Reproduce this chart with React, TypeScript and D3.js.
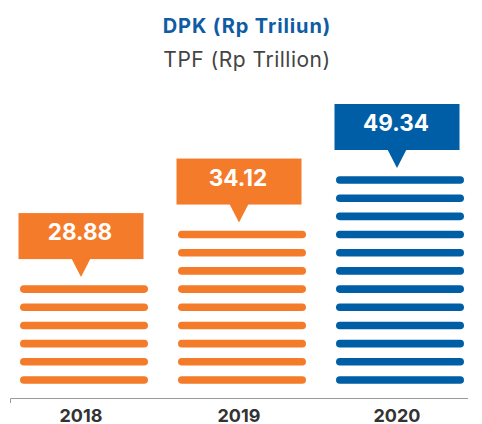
import React from "react";
import * as d3 from "d3";

const years = ["2018", "2019", "2020"];
const values = [28.88, 34.12, 49.34];
const lineCounts = [6, 9, 12];
const seriesColors = ["#F47B2A", "#F47B2A", "#005EA7"];
const titleMain = "DPK (Rp Triliun)";
const titleSub = "TPF (Rp Trillion)";

const W = 482;
const H = 424;
const FONT = "Inter, 'Open Sans', sans-serif";

export default function App() {
  const x = d3.scalePoint<string>().domain(years).range([81, 397]);
  const maxLines = d3.max(lineCounts) as number;
  const y = d3.scaleLinear().domain([0, maxLines - 1]).range([380, 180]);
  const axisY = 398.5;
  const lineH = 7.6;
  const lineLeft = -61;
  const lineWidth = 128;
  const boxW = 125;
  const boxH = 46;
  const gap = 30;
  const triW = 19;
  const triH = 18;

  return (
    <svg width={W} height={H} style={{ position: "absolute", left: 0, top: 0, background: "#fff" }}>
      <text x={247} y={33} textAnchor="middle" fontFamily={FONT} fontWeight={700} fontSize={20} letterSpacing={0.9} fill="#0F5CA3">
        {titleMain}
      </text>
      <text x={247} y={66.5} textAnchor="middle" fontFamily={FONT} fontWeight={400} fontSize={21} letterSpacing={0.5} fill="#444">
        {titleSub}
      </text>

      {years.map((yr, i) => {
        const cx = x(yr) as number;
        const color = seriesColors[i];
        const idx = d3.range(lineCounts[i]);
        const topY = y(lineCounts[i] - 1);
        const boxBottom = topY - gap;
        const boxTop = boxBottom - boxH;
        return (
          <g key={yr}>
            {idx.map((k) => (
              <rect
                key={k}
                x={cx + lineLeft}
                y={y(k) - lineH / 2}
                width={lineWidth}
                height={lineH}
                rx={lineH / 2}
                fill={color}
              />
            ))}
            <rect x={cx - boxW / 2} y={boxTop} width={boxW} height={boxH} fill={color} />
            <path
              d={`M${cx - triW / 2},${boxBottom - 0.5} L${cx + triW / 2},${boxBottom - 0.5} L${cx},${boxBottom + triH} Z`}
              fill={color}
            />
            <text
              x={cx - 1}
              y={boxTop + 27}
              textAnchor="middle"
              fontFamily={FONT}
              fontWeight={700}
              fontSize={22.5}
              fill="#fff"
            >
              {values[i].toFixed(2)}
            </text>
            <text
              x={cx}
              y={421.5}
              textAnchor="middle"
              fontFamily={FONT}
              fontWeight={700}
              fontSize={18}
              fill="#333"
            >
              {yr}
            </text>
          </g>
        );
      })}

      <path d={`M10.5,403 V${axisY} H468`} fill="none" stroke="#9a9a9a" strokeWidth={1} />
    </svg>
  );
}
